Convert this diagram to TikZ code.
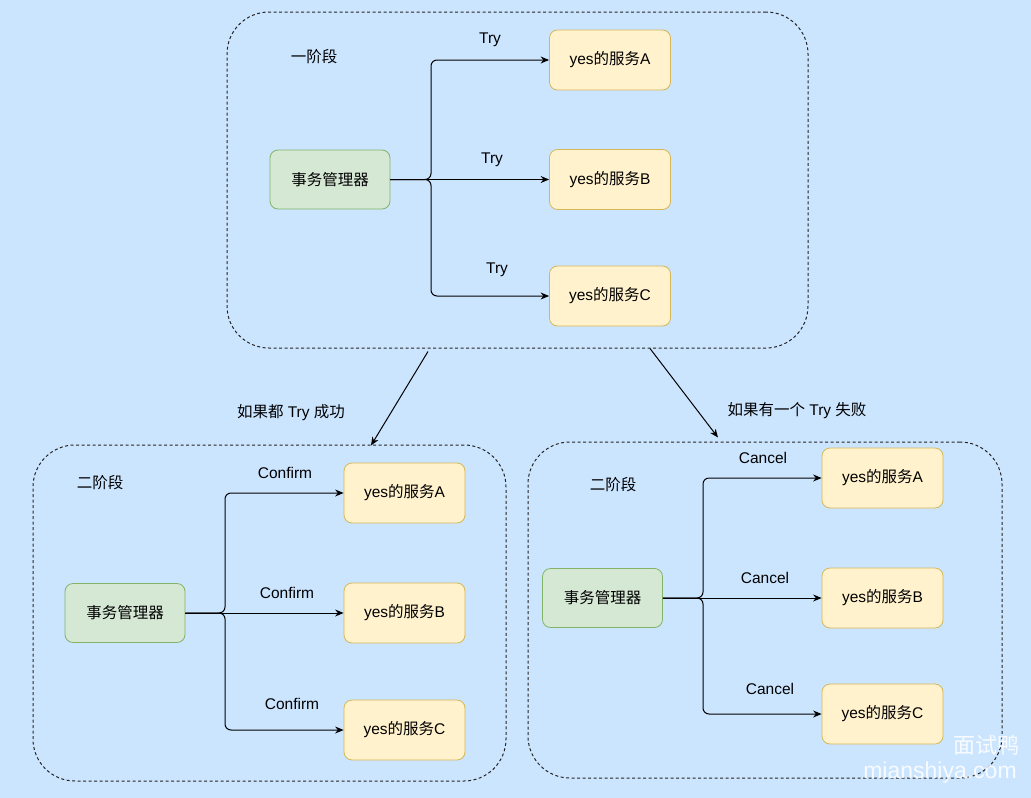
\documentclass[tikz,border=0pt]{standalone}
\usepackage{fontspec}
\setmainfont{Liberation Sans}
\newfontfamily\cjk{Noto Sans CJK SC}
\usetikzlibrary{arrows.meta,calc}
\definecolor{bg}{HTML}{CCE5FF}
\definecolor{mgrfill}{HTML}{D5E8D4}
\definecolor{mgrline}{HTML}{82B366}
\definecolor{svcfill}{HTML}{FFF2CC}
\definecolor{svcline}{HTML}{D6B656}
\definecolor{dashc}{HTML}{262626}
\begin{document}
\begin{tikzpicture}[x=1pt,y=-1pt,
  txt/.style={font=\fontsize{15.5}{18}\selectfont, inner sep=0pt},
  mgr/.style={txt, draw=mgrline, fill=mgrfill, rounded corners=8pt, minimum width=120pt, minimum height=59pt, line width=0.8pt},
  svc/.style={txt, draw=svcline, fill=svcfill, rounded corners=8pt, minimum width=121pt, minimum height=60pt, line width=0.8pt},
  stagebox/.style={draw=dashc, dash pattern=on 3pt off 2.5pt, line width=1pt, rounded corners=42pt, inner sep=0pt},
  arr/.style={-{Stealth[length=8.5pt,width=7pt]}, line width=1pt, black},
  wm/.style={white, opacity=0.85, inner sep=0pt}
]
\fill[bg] (0,0) rectangle (1031,798);
\useasboundingbox (0,0) rectangle (1031,798);

% containers
\node[stagebox, minimum width=581pt, minimum height=336pt] (top) at (517.5,180) {};
\node[stagebox, minimum width=473pt, minimum height=336pt] (bl) at (269.5,613) {};
\node[stagebox, minimum width=474pt, minimum height=336pt] (br) at (765,610) {};

% stage labels
\node[txt] (s1) at (314,57) {\cjk 一阶段};
\node[txt] (s2) at (100,483) {\cjk 二阶段};
\node[txt] (s3) at (613,485) {\cjk 二阶段};

% top stage
\node[mgr] (m1) at (330,179.5) {\cjk 事务管理器};
\node[svc] (a1) at (610,60) {yes{\cjk 的服务}A};
\node[svc] (b1) at (610,179.5) {yes{\cjk 的服务}B};
\node[svc] (c1) at (610,296) {yes{\cjk 的服务}C};
\coordinate (j1) at (431,179.5);
\draw[arr, rounded corners=6pt] (m1.east) -- (j1) |- (a1.west);
\draw[arr] (m1.east) -- (b1.west);
\draw[arr, rounded corners=6pt] (m1.east) -- (j1) |- (c1.west);
\node[txt] (t1) at (490,40) {Try};
\node[txt] (t2) at (492,160) {Try};
\node[txt] (t3) at (497,270) {Try};

% bottom-left stage
\node[mgr] (m2) at (125,613) {\cjk 事务管理器};
\node[svc] (a2) at (404.5,493) {yes{\cjk 的服务}A};
\node[svc] (b2) at (404.5,613) {yes{\cjk 的服务}B};
\node[svc] (c2) at (404.5,730) {yes{\cjk 的服务}C};
\coordinate (j2) at (225,613);
\draw[arr, rounded corners=6pt] (m2.east) -- (j2) |- (a2.west);
\draw[arr] (m2.east) -- (b2.west);
\draw[arr, rounded corners=6pt] (m2.east) -- (j2) |- (c2.west);
\node[txt] (f1) at (285,473) {Confirm};
\node[txt] (f2) at (287,593) {Confirm};
\node[txt] (f3) at (292,704) {Confirm};

% bottom-right stage
\node[mgr] (m3) at (602.5,598) {\cjk 事务管理器};
\node[svc] (a3) at (882.5,478) {yes{\cjk 的服务}A};
\node[svc] (b3) at (882.5,598) {yes{\cjk 的服务}B};
\node[svc] (c3) at (882.5,714) {yes{\cjk 的服务}C};
\coordinate (j3) at (703,598);
\draw[arr, rounded corners=6pt] (m3.east) -- (j3) |- (a3.west);
\draw[arr] (m3.east) -- (b3.west);
\draw[arr, rounded corners=6pt] (m3.east) -- (j3) |- (c3.west);
\node[txt] (k1) at (763,458) {Cancel};
\node[txt] (k2) at (765,578) {Cancel};
\node[txt] (k3) at (770,689) {Cancel};

% transitions between stages
\draw[arr] ($(top.south)+(-89.5,3)$) -- ($(bl.north)+(101.5,1)$);
\draw[arr] ($(top.south)+(132.5,0)$) -- ($(br.north)+(-47,-4)$);
\node[txt] (l1) at (291,413) {{\cjk 如果都} Try {\cjk 成功}};
\node[txt] (l2) at (797,411) {{\cjk 如果有一个} Try {\cjk 失败}};

% watermark
\node[wm, font=\cjk\fontsize{22}{24}\selectfont] (w1) at (986,745) {面试鸭};
\node[wm, font=\fontsize{23}{26}\selectfont] (w2) at (940,773) {mianshiya.com};
\end{tikzpicture}
\end{document}
